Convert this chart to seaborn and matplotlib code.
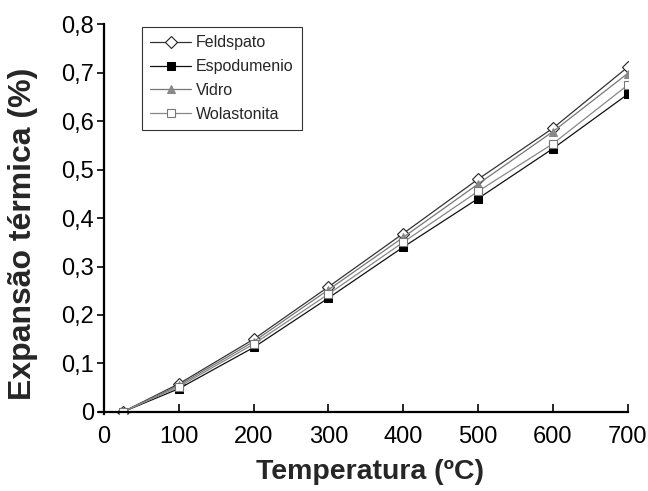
import matplotlib
matplotlib.use("Agg")
import matplotlib.pyplot as plt
import seaborn as sns
import pandas as pd

temperatura = [25, 100, 200, 300, 400, 500, 600, 700]
feldspato = [0.0, 0.058, 0.150, 0.258, 0.368, 0.480, 0.585, 0.711]
espodumenio = [0.0, 0.048, 0.133, 0.235, 0.340, 0.440, 0.543, 0.655]
vidro = [0.0, 0.055, 0.145, 0.252, 0.360, 0.470, 0.578, 0.698]
wolastonita = [0.0, 0.052, 0.140, 0.243, 0.350, 0.455, 0.553, 0.674]

x_ticks = [0, 100, 200, 300, 400, 500, 600, 700]
y_ticks = [0, 0.1, 0.2, 0.3, 0.4, 0.5, 0.6, 0.7, 0.8]
y_ticklabels = ["0", "0,1", "0,2", "0,3", "0,4", "0,5", "0,6", "0,7", "0,8"]

sns.set_style("white")
plt.rcParams['font.family'] = ['Liberation Sans', 'DejaVu Sans']

fig = plt.figure(figsize=(6.48, 4.91), dpi=100)
ax = fig.add_axes([0.1535, 0.156, 0.815, 0.795])

series = [
    ("Feldspato", feldspato, dict(color="#333333", marker="D", markersize=6.5, markerfacecolor="white", markeredgecolor="#222222", markeredgewidth=0.8)),
    ("Espodumenio", espodumenio, dict(color="#111111", marker="s", markersize=6, markerfacecolor="black", markeredgecolor="black")),
    ("Vidro", vidro, dict(color="#777777", marker="^", markersize=6, markerfacecolor="#888888", markeredgecolor="#888888")),
    ("Wolastonita", wolastonita, dict(color="#888888", marker="s", markersize=5.5, markerfacecolor="white", markeredgecolor="#777777", markeredgewidth=0.8)),
]

for name, vals, st in series:
    df = pd.DataFrame({"T": temperatura, "E": vals})
    sns.lineplot(data=df, x="T", y="E", ax=ax, label=name, linewidth=0.9, **st)

ax.set_xlim(-6, 700)
ax.set_ylim(-0.005, 0.8)
ax.spines['left'].set_position(('data', 0))
ax.spines['bottom'].set_position(('data', 0))
for s in ['top', 'right']:
    ax.spines[s].set_visible(False)
for s in ['left', 'bottom']:
    ax.spines[s].set_linewidth(1.6)
    ax.spines[s].set_color("black")
ax.spines['bottom'].set_bounds(-6, 700)
ax.spines['left'].set_bounds(-0.005, 0.8)

ax.set_xticks(x_ticks)
ax.set_yticks(y_ticks)
ax.set_yticklabels(y_ticklabels)
ax.tick_params(axis='x', direction='in', length=6, width=1.2, labelsize=17, pad=10, colors="black")
ax.tick_params(axis='y', direction='out', length=5, width=1.2, labelsize=17, pad=2, colors="black")
ax.tick_params(bottom=True, left=True)

ax.set_xlabel("Temperatura (ºC)", fontsize=20.5, fontweight="bold")
ax.set_ylabel("Expansão térmica (%)", fontsize=23, fontweight="bold")
ax.xaxis.set_label_coords(0.512, -0.115)
ax.yaxis.set_label_coords(-0.117, 0.462)

leg = ax.legend(loc="upper left", bbox_to_anchor=(0.065, 1.012), fontsize=11.5, frameon=True,
                fancybox=False, edgecolor="black", handlelength=2.6, borderpad=0.5,
                labelspacing=0.55, handletextpad=0.3)
leg.get_frame().set_linewidth(0.8)

fig.savefig("out.png", dpi=100)
